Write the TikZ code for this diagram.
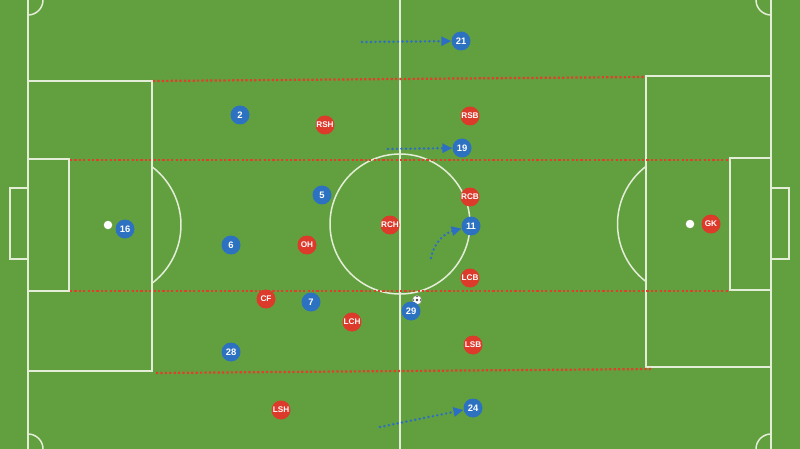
\documentclass[tikz,border=0pt]{standalone}
\usepackage{fontspec}
\setmainfont{Liberation Sans}
\usetikzlibrary{arrows.meta}
\definecolor{pitch}{HTML}{62A03F}
\definecolor{pline}{HTML}{E4EDD8}
\definecolor{blueP}{HTML}{2D72C0}
\definecolor{redP}{HTML}{DC3A2A}
\definecolor{redline}{HTML}{E23F2B}
\definecolor{arrowblue}{HTML}{2C6DC6}
\begin{document}
\begin{tikzpicture}[x=1pt,y=-1pt,
  pl/.style={draw=pline,line width=1.5pt},
  zone/.style={draw=redline,line width=2.2pt,dash pattern=on 2.2pt off 2.2pt},
  player/.style={circle,minimum size=19pt,inner sep=0pt,text=white,font=\bfseries\fontsize{9.4}{9.4}\selectfont},
  bp/.style={player,fill=blueP},
  rp/.style={player,fill=redP,font=\bfseries\fontsize{8.2}{8.2}\selectfont},
  run/.style={draw=arrowblue,line width=2.7pt,dash pattern=on 0pt off 4.5pt,line cap=round,
    -{Triangle[length=10pt,width=9pt,fill=arrowblue]}},
  spot/.style={circle,fill=white,minimum size=8.5pt,inner sep=0pt}
]
\useasboundingbox (0,0) rectangle (800,449);
\fill[pitch] (0,0) rectangle (800,449);

% pitch markings
\draw[pl] (28,-5) -- (28,454);
\draw[pl] (771,-5) -- (771,454);
\draw[pl] (400,-5) -- (400,454);
\draw[pl] (28,81) -- (152,81) -- (152,371) -- (28,371);
\draw[pl] (28,159) -- (69,159) -- (69,291) -- (28,291);
\draw[pl] (28,188) -- (10,188) -- (10,259) -- (28,259);
\draw[pl] (771,76) -- (646,76) -- (646,367) -- (771,367);
\draw[pl] (771,158) -- (730,158) -- (730,290) -- (771,290);
\draw[pl] (771,188) -- (789,188) -- (789,259) -- (771,259);
\draw[pl] (400,224) circle (70);
\draw[pl] (108,225) ++(-52.8:73) arc[start angle=-52.8,end angle=52.8,radius=73];
\draw[pl] (690,224) ++(127.5:72.5) arc[start angle=127.5,end angle=232.5,radius=72.5];
% corner arcs
\draw[pl] (28,15) .. controls (36.3,15) and (43,8.3) .. (43,0);
\draw[pl] (756,0) .. controls (756,8.3) and (762.7,15) .. (771,15);
\draw[pl] (28,434) .. controls (36.3,434) and (43,440.7) .. (43,449);
\draw[pl] (756,449) .. controls (756,440.7) and (762.7,434) .. (771,434);
\node[spot] (spotL) at (108,225) {};
\node[spot] (spotR) at (690,224) {};

% zone lines
\draw[zone] (153,81) -- (645,77);
\draw[zone] (70,160) -- (730,160);
\draw[zone] (70,291) -- (730,291);
\draw[zone] (156,373) -- (651,369);

% ball
\node[circle,fill=white,draw=gray!70,line width=0.4pt,minimum size=9pt,inner sep=0pt] (ball) at (417,300) {};
\fill[black!75] (ball.center) circle (1.4);
\fill[black!60] (ball.north) ++(0,1.1) circle (0.9);
\fill[black!60] (ball.east) ++(-1.1,0) circle (0.9);
\fill[black!60] (ball.west) ++(1.1,0) circle (0.9);

% blue players
\node[bp] (p21) at (461,41) {21};
\node[bp] (p2) at (240,115) {2};
\node[bp] (p19) at (462,148) {19};
\node[bp] (p5) at (322,195) {5};
\node[bp] (p16) at (125,229) {16};
\node[bp] (p6) at (231,245) {6};
\node[bp] (p11) at (471,226) {11};
\node[bp] (p7) at (311,302) {7};
\node[bp] (p29) at (411,311) {29};
\node[bp] (p28) at (231,352) {28};
\node[bp] (p24) at (473,408) {24};

% red players
\node[rp] (rsh) at (325,125) {RSH};
\node[rp] (rsb) at (470,116) {RSB};
\node[rp] (rcb) at (470,197) {RCB};
\node[rp] (rch) at (390,225) {RCH};
\node[rp] (oh) at (307,245) {OH};
\node[rp] (gk) at (711,224) {GK};
\node[rp] (lcb) at (470,278) {LCB};
\node[rp] (cf) at (266,299) {CF};
\node[rp] (lch) at (352,322) {LCH};
\node[rp] (lsb) at (473,345) {LSB};
\node[rp] (lsh) at (281,410) {LSH};

% runs
\coordinate (s21) at (362,42);
\coordinate (s19) at (388,149);
\coordinate (s11) at (431,258);
\coordinate (s24) at (380,427);
\draw[run] (s21) -- (p21);
\draw[run] (s19) -- (p19);
\draw[run] (s11) .. controls (434,242) and (445,233) .. (p11);
\draw[run] (s24) -- (p24);
\end{tikzpicture}
\end{document}
